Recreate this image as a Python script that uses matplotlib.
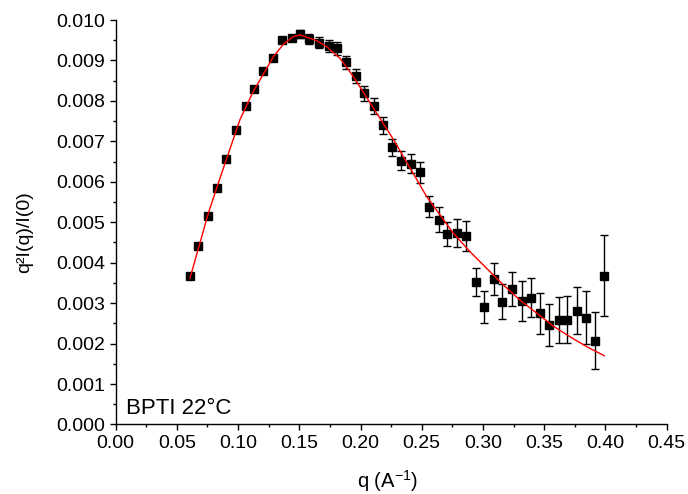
import matplotlib
matplotlib.use("Agg")
import matplotlib.pyplot as plt
from matplotlib.ticker import MultipleLocator

plt.rcParams['font.family'] = ['Liberation Sans', 'DejaVu Sans']
plt.rcParams['mathtext.default'] = 'regular'

# datos medidos
q = [0.0607, 0.0675, 0.0752, 0.0825, 0.0901, 0.0980, 0.1062, 0.1132, 0.1201, 0.1283,
     0.1361, 0.1438, 0.1506, 0.1582, 0.1659, 0.1740, 0.1810, 0.1879, 0.1961, 0.2029,
     0.2110, 0.2186, 0.2260, 0.2331, 0.2410, 0.2489, 0.2560, 0.2641, 0.2709, 0.2788,
     0.2862, 0.2941, 0.3009, 0.3088, 0.3159, 0.3240, 0.3317, 0.3391, 0.3467, 0.3538,
     0.3619, 0.3690, 0.3766, 0.3840, 0.3916, 0.3989]
iq = [0.00367, 0.00441, 0.00515, 0.00584, 0.00657, 0.00728, 0.00787, 0.00829, 0.00874, 0.00907,
      0.00950, 0.00956, 0.00965, 0.00953, 0.00944, 0.00936, 0.00930, 0.00895, 0.00862, 0.00819,
      0.00787, 0.00740, 0.00686, 0.00652, 0.00645, 0.00624, 0.00538, 0.00506, 0.00471, 0.00473,
      0.00466, 0.00353, 0.00291, 0.00359, 0.00304, 0.00335, 0.00305, 0.00313, 0.00275, 0.00247,
      0.00258, 0.00259, 0.00281, 0.00264, 0.00207, 0.00368]
err = [0.00003, 0.00003, 0.00004, 0.00004, 0.00005, 0.00005, 0.00006, 0.00006, 0.00007, 0.00007,
       0.00008, 0.00008, 0.00010, 0.00012, 0.00014, 0.00014, 0.00016, 0.00017, 0.00017, 0.00019,
       0.00019, 0.00021, 0.00021, 0.00023, 0.00023, 0.00026, 0.00026, 0.00031, 0.00030, 0.00034,
       0.00036, 0.00035, 0.00040, 0.00040, 0.00043, 0.00043, 0.00049, 0.00048, 0.00051, 0.00052,
       0.00056, 0.00058, 0.00058, 0.00066, 0.00070, 0.00100]

# curva de ajuste
q_fit = [0.0607, 0.0757, 0.0847, 0.1016, 0.1124, 0.1288, 0.1370, 0.1451, 0.1506, 0.1642,
         0.1724, 0.1833, 0.1942, 0.2064, 0.2268, 0.2541, 0.2758, 0.2895, 0.3030, 0.3167,
         0.3300, 0.3440, 0.3575, 0.3710, 0.3850, 0.3990]
iq_fit = [0.00361, 0.00522, 0.00604, 0.00754, 0.00823, 0.00909, 0.00940, 0.00959, 0.00963, 0.00949,
          0.00934, 0.00905, 0.00860, 0.00802, 0.00705, 0.00563, 0.00473, 0.00427, 0.00386, 0.00345,
          0.00308, 0.00275, 0.00243, 0.00217, 0.00192, 0.00170]

fig = plt.figure(figsize=(6.88, 4.94), dpi=100)
ax = fig.add_axes([0.168, 0.1407, 0.801, 0.8188])

ax.errorbar(q, iq, yerr=err, fmt='s', color='black', markersize=6.3,
            ecolor='black', elinewidth=1, capsize=3, capthick=1, zorder=2)
ax.plot(q_fit, iq_fit, color='red', lw=1, zorder=3)

ax.set_xlim(0, 0.45)
ax.set_ylim(0, 0.010)
ax.xaxis.set_major_locator(MultipleLocator(0.05))
ax.xaxis.set_minor_locator(MultipleLocator(0.025))
ax.yaxis.set_major_locator(MultipleLocator(0.001))
ax.yaxis.set_minor_locator(MultipleLocator(0.0005))
ax.xaxis.set_major_formatter(plt.FormatStrFormatter('%.2f'))
ax.yaxis.set_major_formatter(plt.FormatStrFormatter('%.3f'))

for lado in ['top', 'right']:
    ax.spines[lado].set_visible(False)
for lado in ['left', 'bottom']:
    ax.spines[lado].set_linewidth(1.0)

ax.tick_params(which='major', direction='out', length=4, width=1, labelsize=14)
ax.tick_params(which='minor', direction='out', length=2.5, width=1)

ax.set_xlabel('q (A$^{-1}$)', fontsize=14.5, va='center')
ax.set_ylabel('q²I(q)/I(0)', fontsize=14, va='center')
ax.xaxis.set_label_coords(0.494, -0.140)
ax.yaxis.set_label_coords(-0.165, 0.476)

ax.text(0.019, 0.026, 'BPTI 22°C', transform=ax.transAxes, fontsize=16,
        ha='left', va='baseline')

fig.savefig('out.png', dpi=100)
